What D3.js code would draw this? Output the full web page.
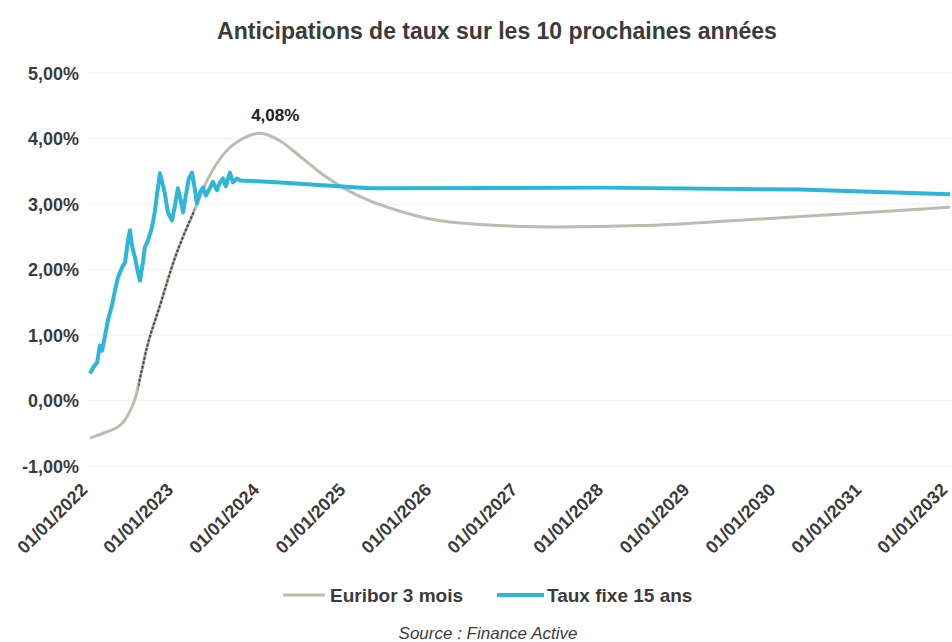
<!DOCTYPE html>
<html>
<head>
<meta charset="utf-8">
<script src="https://cdn.jsdelivr.net/npm/d3@7"></script>
<style>
  body { margin: 0; background: #fff; }
  text { font-family: "Liberation Sans", Arial, sans-serif; }
</style>
</head>
<body>
<div id="chart"></div>
<script>
// Euribor 3 mois (historique + anticipations)
const euriborDates = ["2022-01-01", "2022-03-05", "2022-05-17", "2022-06-11", "2022-07-11", "2022-08-05",
  "2022-08-31", "2022-10-25", "2022-12-28", "2023-01-31", "2023-03-14", "2023-05-12", "2023-07-20",
  "2023-10-12", "2023-12-25", "2024-03-15", "2024-06-20", "2024-09-15", "2024-12-10", "2025-04-01",
  "2025-08-10", "2026-01-01", "2026-07-01", "2027-06-01", "2028-06-01", "2029-06-01", "2030-06-01",
  "2031-06-01", "2032-01-01"]
const euriborValues = [-0.57, -0.49, -0.35, -0.22, 0.02, 0.40, 0.81, 1.45, 2.18, 2.50, 2.85, 3.35, 3.75,
  4.00, 4.08, 3.97, 3.70, 3.45, 3.25, 3.05, 2.89, 2.76, 2.69, 2.65, 2.67, 2.74, 2.82, 2.90, 2.95]

// Taux fixe 15 ans
const tauxDates = ["2022-01-01", "2022-01-14", "2022-01-31", "2022-02-12", "2022-02-21", "2022-03-06",
  "2022-03-18", "2022-04-04", "2022-04-17", "2022-04-30", "2022-05-17", "2022-05-30", "2022-06-11",
  "2022-06-20", "2022-06-28", "2022-07-11", "2022-07-24", "2022-08-01", "2022-08-14", "2022-08-22",
  "2022-09-04", "2022-09-21", "2022-10-04", "2022-10-12", "2022-10-25", "2022-11-07", "2022-11-15",
  "2022-11-28", "2022-12-15", "2022-12-28", "2023-01-09", "2023-01-22", "2023-01-31", "2023-02-12",
  "2023-02-25", "2023-03-10", "2023-03-23", "2023-03-31", "2023-04-13", "2023-04-26", "2023-05-08",
  "2023-05-25", "2023-06-07", "2023-06-24", "2023-07-07", "2023-07-20", "2023-08-01", "2023-08-18",
  "2023-08-31", "2023-09-17", "2023-09-30", "2024-03-17", "2025-04-04", "2027-12-06", "2030-04-04",
  "2032-01-01"]
const tauxValues = [0.41, 0.50, 0.58, 0.84, 0.76, 0.99, 1.22, 1.45, 1.68, 1.88, 2.03, 2.11, 2.44,
  2.60, 2.37, 2.18, 1.95, 1.83, 2.11, 2.34, 2.44, 2.64, 2.90, 3.13, 3.47, 3.28, 3.16, 2.87, 2.75,
  2.98, 3.24, 3.05, 2.87, 3.13, 3.39, 3.48, 3.21, 3.01, 3.18, 3.25, 3.13, 3.24, 3.34, 3.21, 3.33,
  3.39, 3.27, 3.48, 3.33, 3.39, 3.36, 3.33, 3.24, 3.25, 3.22, 3.15]

const yTicks = [-1, 0, 1, 2, 3, 4, 5]
const xTickYears = [2022, 2023, 2024, 2025, 2026, 2027, 2028, 2029, 2030, 2031, 2032]
const seriesNames = ["Euribor 3 mois", "Taux fixe 15 ans"]

const parseDate = d3.timeParse("%Y-%m-%d")
const euribor = euriborDates.map((d, i) => ({ date: parseDate(d), value: euriborValues[i] }))
const taux = tauxDates.map((d, i) => ({ date: parseDate(d), value: tauxValues[i] }))

const width = 952
const height = 642
const textColor = "#3b3b3b"
const colors = ["#bdbcae", "#2db6d9"]

const svg = d3.select("#chart").append("svg")
  .attr("width", width)
  .attr("height", height)

// Scales
const xScale = d3.scaleTime()
  .domain([new Date(2022, 0, 1), new Date(2032, 0, 1)])
  .range([90, 950])

const yScale = d3.scaleLinear()
  .domain([-1, 5])
  .range([466, 73])

const fmt = v => d3.format(".2f")(v).replace(".", ",").replace("−", "-") + "%"

// Title
svg.append("text")
  .attr("x", 497)
  .attr("y", 39)
  .attr("text-anchor", "middle")
  .attr("font-size", "23px")
  .attr("font-weight", "bold")
  .attr("fill", textColor)
  .text("Anticipations de taux sur les 10 prochaines années")

// Grid lines
svg.append("g")
  .selectAll("line")
  .data(yTicks)
  .join("line")
  .attr("x1", 88)
  .attr("x2", 952)
  .attr("y1", d => yScale(d))
  .attr("y2", d => yScale(d))
  .attr("stroke", "#f1f1f1")
  .attr("stroke-width", 1)

// y axis
const yAxis = svg.append("g")
  .attr("transform", "translate(79,0)")
  .call(d3.axisLeft(yScale).tickValues(yTicks).tickSize(0).tickPadding(0).tickFormat(fmt))
yAxis.select(".domain").remove()
yAxis.selectAll("text")
  .attr("font-size", "18px")
  .attr("font-weight", "bold")
  .attr("fill", textColor)
  .attr("dy", "0.35em")
  .style("font-family", "'Liberation Sans', Arial, sans-serif")

// x axis
const xAxis = svg.append("g")
  .attr("transform", "translate(0,478)")
  .call(d3.axisBottom(xScale)
    .tickValues(xTickYears.map(y => new Date(y, 0, 1)))
    .tickSize(0)
    .tickFormat(d3.timeFormat("%d/%m/%Y")))
xAxis.select(".domain").remove()
xAxis.selectAll("text")
  .attr("text-anchor", "end")
  .attr("font-size", "18px")
  .attr("font-weight", "bold")
  .attr("fill", textColor)
  .attr("dy", null)
  .attr("y", 0)
  .attr("transform", "translate(-2,13) rotate(-45)")
  .style("font-family", "'Liberation Sans', Arial, sans-serif")

// Lines
const curveLine = d3.line()
  .x(d => xScale(d.date))
  .y(d => yScale(d.value))
  .curve(d3.curveMonotoneX)

const straightLine = d3.line()
  .x(d => xScale(d.date))
  .y(d => yScale(d.value))

svg.append("path")
  .datum(euribor)
  .attr("fill", "none")
  .attr("stroke", colors[0])
  .attr("stroke-width", 3)
  .attr("d", curveLine)

// darker printed segment on the historical part of the Euribor curve
svg.append("clipPath")
  .attr("id", "histClip")
  .append("rect")
  .attr("x", xScale(parseDate("2022-07-25")))
  .attr("width", xScale(parseDate("2023-03-20")) - xScale(parseDate("2022-07-25")))
  .attr("y", 0)
  .attr("height", height)

svg.append("path")
  .datum(euribor)
  .attr("clip-path", "url(#histClip)")
  .attr("fill", "none")
  .attr("stroke", "#4a4a4a")
  .attr("stroke-width", 2)
  .attr("stroke-dasharray", "3,1.5")
  .attr("d", curveLine)

svg.append("path")
  .datum(taux)
  .attr("fill", "none")
  .attr("stroke", colors[1])
  .attr("stroke-width", 4)
  .attr("stroke-linejoin", "round")
  .attr("d", straightLine)

// Peak label
const peak = d3.greatest(euribor, d => d.value)
svg.append("text")
  .attr("x", xScale(peak.date) + 15)
  .attr("y", yScale(peak.value) - 12)
  .attr("text-anchor", "middle")
  .attr("font-size", "17px")
  .attr("font-weight", "bold")
  .attr("fill", "#222")
  .text(fmt(peak.value))

// Legend
const legendX = [283, 497]
const legend = svg.append("g")
  .selectAll("g")
  .data(seriesNames)
  .join("g")
  .attr("transform", (d, i) => `translate(${legendX[i]},595)`)

legend.append("line")
  .attr("x1", 0)
  .attr("x2", (d, i) => i === 0 ? 42 : 47)
  .attr("stroke", (d, i) => colors[i])
  .attr("stroke-width", (d, i) => i === 0 ? 3 : 4)

legend.append("text")
  .attr("x", (d, i) => i === 0 ? 47 : 50)
  .attr("dy", "0.35em")
  .attr("font-size", "19px")
  .attr("font-weight", "bold")
  .attr("fill", textColor)
  .text(d => d)

// Source
svg.append("text")
  .attr("x", 488)
  .attr("y", 639)
  .attr("text-anchor", "middle")
  .attr("font-size", "17px")
  .attr("font-style", "italic")
  .attr("fill", textColor)
  .text("Source : Finance Active")
</script>
</body>
</html>
